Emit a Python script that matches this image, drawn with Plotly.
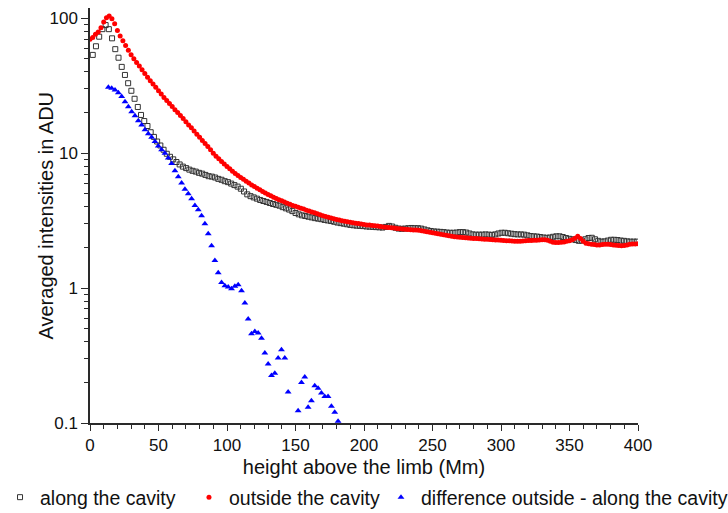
import numpy as np
import plotly.graph_objects as go

# Averaged intensity profiles (ADU) versus height above the limb (Mm)

# outside the cavity: sampled every 2 Mm from 0 to 400 Mm
outside_cavity = [
    70, 72, 76, 79, 85, 94, 101, 104, 99, 91, 81, 74, 68, 62.7, 57.8, 53.7, 50.1, 47, 44.2, 41.5,
    39, 36.6, 34.4, 32.5, 30.8, 29, 27.4, 25.9, 24.6, 23.3, 22.2, 21.0, 20.0, 19.05, 18.1, 17.1, 16.2, 15.4, 14.6, 13.8,
    13.1, 12.4, 11.8, 11.2, 10.6, 10.0, 9.5, 9.08, 8.67, 8.32, 7.98, 7.67, 7.33, 7.08, 6.84, 6.61, 6.4, 6.19, 6.0, 5.82,
    5.65, 5.5, 5.35, 5.2, 5.07, 4.94, 4.83, 4.72, 4.61, 4.52, 4.43, 4.34, 4.26, 4.18, 4.1, 4.04, 3.97, 3.91, 3.85, 3.78,
    3.72, 3.66, 3.61, 3.55, 3.49, 3.44, 3.4, 3.35, 3.31, 3.27, 3.23, 3.19, 3.16, 3.13, 3.1, 3.08, 3.05, 3.03, 3.01, 2.99,
    2.96, 2.94, 2.93, 2.91, 2.9, 2.88, 2.86, 2.84, 2.83, 2.81, 2.8, 2.79, 2.77, 2.75, 2.74, 2.73, 2.72, 2.71, 2.7, 2.69,
    2.68, 2.66, 2.64, 2.62, 2.59, 2.57, 2.55, 2.53, 2.51, 2.48, 2.46, 2.44, 2.42, 2.40, 2.39, 2.38, 2.37, 2.36, 2.35, 2.34,
    2.33, 2.33, 2.32, 2.31, 2.30, 2.30, 2.29, 2.28, 2.27, 2.27, 2.26, 2.25, 2.24, 2.24, 2.23, 2.22, 2.22, 2.22, 2.23, 2.24,
    2.25, 2.25, 2.26, 2.26, 2.27, 2.28, 2.28, 2.26, 2.22, 2.19, 2.18, 2.18, 2.19, 2.2, 2.22, 2.24, 2.28, 2.34, 2.42, 2.33,
    2.22, 2.15, 2.13, 2.11, 2.1, 2.09, 2.09, 2.1, 2.11, 2.11, 2.1, 2.09, 2.08, 2.07, 2.06, 2.07, 2.09, 2.11, 2.12, 2.12,
    2.13,
]

# along the cavity: sampled every 2.35 Mm starting at 2 Mm
along_cavity = [
    53.5, 62, 73, 83, 89, 83, 71, 59, 51, 43.6, 38, 33, 29, 25.3, 22, 19.2, 17.3, 15.9, 14.3, 13.2,
    12.2, 11.4, 10.6, 9.9, 9.4, 9.0, 8.6, 8.25, 7.95, 7.75, 7.55, 7.4, 7.3, 7.15, 7.05, 6.9, 6.75, 6.7, 6.6, 6.45,
    6.35, 6.2, 6.1, 5.95, 5.8, 5.65, 5.45, 5.2, 4.95, 4.8, 4.7, 4.6, 4.5, 4.42, 4.35, 4.27, 4.2, 4.14, 4.08, 3.98,
    3.9, 3.82, 3.72, 3.6, 3.52, 3.46, 3.42, 3.38, 3.34, 3.3, 3.27, 3.24, 3.2, 3.17, 3.14, 3.1, 3.06, 3.03, 3.0, 2.97,
    2.94, 2.92, 2.9, 2.89, 2.88, 2.86, 2.85, 2.84, 2.83, 2.82, 2.81, 2.84, 2.89, 2.86, 2.8, 2.76, 2.75, 2.76, 2.78, 2.79,
    2.78, 2.78, 2.76, 2.72, 2.68, 2.65, 2.63, 2.62, 2.61, 2.6, 2.58, 2.57, 2.57, 2.58, 2.6, 2.6, 2.58, 2.54, 2.5, 2.49,
    2.49, 2.49, 2.5, 2.49, 2.48, 2.5, 2.54, 2.57, 2.57, 2.55, 2.53, 2.51, 2.5, 2.5, 2.49, 2.46, 2.43, 2.42, 2.41, 2.39,
    2.37, 2.36, 2.37, 2.4, 2.42, 2.42, 2.39, 2.35, 2.32, 2.3, 2.27, 2.24, 2.25, 2.3, 2.35, 2.36, 2.3, 2.24, 2.21, 2.22,
    2.25, 2.28, 2.28, 2.27, 2.25, 2.24, 2.22, 2.21, 2.21, 2.21,
]

# difference outside - along the cavity: sampled every 2.43 Mm starting at 13.4 Mm
# (None where the difference falls below the plotted range)
difference = [
    30.8, 30.3, 29.4, 28.1, 26.3, 24.1, 22.1, 20.3, 18.9, 17.4, 16.2, 14.9, 13.9, 13.1, 12.2, 11.3, 10.6, 10.0, 9.2, 8.4,
    7.4, 6.7, 6.0, 5.4, 5.0, 4.6, 4.1, 3.8, 3.43, 3.0, 2.53, 2.06, 1.6, 1.3, 1.1, 1.04, 1.02, 0.99, 1.03, 1.06,
    0.955, 0.774, 0.589, 0.458, 0.477, 0.464, 0.424, 0.33, 0.274, 0.225, 0.234, 0.303, 0.349, 0.303, 0.17, None, None, 0.123, 0.2, 0.219,
    0.131, 0.146, 0.189, 0.181, 0.167, 0.157, 0.157, 0.133, 0.12, 0.103,
]

height_outside = np.arange(len(outside_cavity)) * 2.0
height_along = 2.0 + np.arange(len(along_cavity)) * 2.35
height_diff = 13.4 + np.arange(len(difference)) * 2.43

y_tickvals = [0.1, 1, 10, 100]
y_ticktext = ["0.1", "1", "10", "100"]
y_minor = [m * d for d in (0.1, 1, 10) for m in range(2, 10)]

FONT = "Arial, Liberation Sans, sans-serif"
AXIS_COLOR = "#2a2a2a"
TEXT_COLOR = "#111111"

fig = go.Figure()
fig.add_trace(go.Scatter(
    x=height_along, y=along_cavity, mode="markers", name="along the cavity", legend="legend",
    marker=dict(symbol="square-open", size=5, color="#333333", line=dict(width=1, color="#333333")),
))
fig.add_trace(go.Scatter(
    x=height_outside, y=outside_cavity, mode="markers", name="outside the cavity", legend="legend2",
    marker=dict(symbol="circle", size=5, color="#ff0000", line=dict(width=0)),
))
fig.add_trace(go.Scatter(
    x=height_diff, y=difference, mode="markers", name="difference outside - along the cavity", legend="legend3",
    marker=dict(symbol="triangle-up", size=6, color="#0000ff", line=dict(width=0)),
))

# one single-entry legend per series, laid out in a row under the x axis
legend_style = dict(
    orientation="v", xanchor="left", y=-0.1325, yanchor="top",
    font=dict(size=19.5, family=FONT, color=TEXT_COLOR),
    itemsizing="trace", bgcolor="rgba(0,0,0,0)", borderwidth=0,
)

fig.update_layout(
    width=728, height=513,
    margin=dict(l=90, r=90, t=8, b=90, autoexpand=False),
    paper_bgcolor="white", plot_bgcolor="white",
    font=dict(family=FONT, color=TEXT_COLOR),
    showlegend=True,
    legend=dict(x=-0.1642, **legend_style),
    legend2=dict(x=0.1806, **legend_style),
    legend3=dict(x=0.5310, **legend_style),
    xaxis=dict(
        range=[0, 400], showgrid=False, zeroline=False, automargin=False,
        showline=True, linecolor=AXIS_COLOR, linewidth=1.5,
        ticks="outside", ticklen=6, tickwidth=1.2, tickcolor=AXIS_COLOR,
        tick0=0, dtick=50, tickfont=dict(size=17, family=FONT, color=TEXT_COLOR),
        minor=dict(ticks="outside", ticklen=4, tickwidth=1, tickcolor=AXIS_COLOR, dtick=10, tick0=0, showgrid=False),
        title=dict(text="height above the limb (Mm)", font=dict(size=20, family=FONT, color=TEXT_COLOR), standoff=6),
    ),
    yaxis=dict(
        type="log", range=[-1, 2.076], showgrid=False, zeroline=False, automargin=False,
        showline=True, linecolor=AXIS_COLOR, linewidth=1.5,
        ticks="outside", ticklen=7, tickwidth=1.2, tickcolor=AXIS_COLOR,
        tickmode="array", tickvals=y_tickvals, ticktext=y_ticktext,
        tickfont=dict(size=17, family=FONT, color=TEXT_COLOR),
        minor=dict(ticks="outside", ticklen=4, tickwidth=1, tickcolor=AXIS_COLOR, tickvals=y_minor, showgrid=False),
    ),
    annotations=[dict(
        text="Averaged intensities in ADU", textangle=-90,
        xref="paper", yref="paper", x=-0.0821, y=0.5, xanchor="center", yanchor="middle",
        showarrow=False, font=dict(size=20, family=FONT, color=TEXT_COLOR),
    )],
)

fig.write_html("out.html")
